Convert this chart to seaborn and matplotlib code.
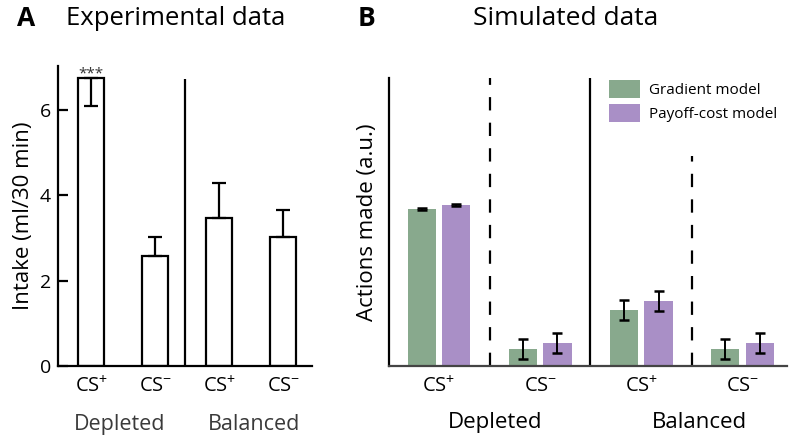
import pandas as pd
import seaborn as sns
import numpy as np
import matplotlib.pyplot as plt

# Panel A: experimental data
exp_conditions = ["Depleted CS+", "Depleted CS-", "Balanced CS+", "Balanced CS-"]
exp_intake = [6.75, 2.58, 3.47, 3.02]
exp_err_low = [0.66, 0.0, 0.0, 0.0]
exp_err_high = [0.0, 0.44, 0.82, 0.64]

# Panel B: simulated data
sim_conditions = ["Depleted CS+", "Depleted CS-", "Balanced CS+", "Balanced CS-"]
models = ["Gradient model", "Payoff-cost model"]
gradient_vals = [54.5, 5.9, 19.4, 5.9]
payoff_vals = [55.9, 8.0, 22.6, 8.0]
gradient_err = [0.3, 3.6, 3.5, 3.6]
payoff_err = [0.3, 3.5, 3.5, 3.6]

tick_labels = ["CS$^{+}$", "CS$^{-}$", "CS$^{+}$", "CS$^{-}$"]
groups = ["Depleted", "Balanced"]
colors = ["#88a98d", "#a98fc6"]

sns.set_style("white")
plt.rcParams["font.family"] = ["Open Sans", "DejaVu Sans"]
plt.rcParams["mathtext.fontset"] = "custom"
plt.rcParams["mathtext.rm"] = "Open Sans"
plt.rcParams["mathtext.default"] = "regular"
plt.rcParams["text.color"] = "black"
plt.rcParams["axes.labelcolor"] = "black"
plt.rcParams["xtick.color"] = "black"
plt.rcParams["ytick.color"] = "black"

fig = plt.figure(figsize=(7.89, 4.41), dpi=100)
axA = fig.add_axes([0.0735, 0.170, 0.322, 0.680])
axB = fig.add_axes([0.493, 0.170, 0.5045, 0.653])

LW = 1.6

# ---- Panel A ----
dfA = pd.DataFrame({"cond": exp_conditions, "intake": exp_intake})
sns.barplot(data=dfA, x="cond", y="intake", order=exp_conditions, ax=axA,
            color="white", edgecolor="black", linewidth=LW, width=0.41,
            errorbar=None)
xA = np.arange(len(exp_conditions))
axA.errorbar(xA, exp_intake, yerr=[exp_err_low, exp_err_high], fmt="none",
             ecolor="black", elinewidth=LW, capsize=5, capthick=LW)
axA.text(xA[0], exp_intake[0] - 0.07, "***", ha="center", va="bottom",
         fontsize=11, color="#333333")
axA.plot([1.46, 1.46], [0, 6.72], color="black", lw=LW, solid_capstyle="butt")
axA.set_xlim(-0.52, 3.45)
axA.set_ylim(0, 7.03)
axA.set_yticks([0, 2, 4, 6])
axA.tick_params(axis="y", direction="in", length=7, width=LW, labelsize=14,
                left=True, pad=5)
axA.tick_params(axis="x", length=0, labelsize=14.5, pad=7)
axA.set_xticks(xA)
axA.set_xticklabels(tick_labels)
axA.set_xlabel("")
axA.set_ylabel("Intake (ml/30 min)", fontsize=16, labelpad=4)
for s in ["top", "right"]:
    axA.spines[s].set_visible(False)
for s in ["left", "bottom"]:
    axA.spines[s].set_linewidth(LW)
    axA.spines[s].set_color("black")
axA.text(0.45, -0.16, groups[0], transform=axA.get_xaxis_transform(),
         ha="center", va="top", fontsize=15.5, color="#3a3a3a")
axA.text(2.55, -0.16, groups[1], transform=axA.get_xaxis_transform(),
         ha="center", va="top", fontsize=15.5, color="#3a3a3a")
fig.text(0.022, 0.958, "A", fontsize=19, fontweight="bold", va="center")
fig.text(0.223, 0.958, "Experimental data", fontsize=18.5, ha="center", va="center")

# ---- Panel B ----
dfB = pd.DataFrame({
    "cond": sim_conditions * 2,
    "model": [models[0]] * 4 + [models[1]] * 4,
    "actions": gradient_vals + payoff_vals,
    "err": gradient_err + payoff_err,
})
sns.barplot(data=dfB, x="cond", y="actions", hue="model", order=sim_conditions,
            hue_order=models, palette=colors, ax=axB, width=0.68, gap=0.18,
            errorbar=None, saturation=1, linewidth=0)
for patch, val, err in zip(axB.patches[:8], dfB["actions"], dfB["err"]):
    cx = patch.get_x() + patch.get_width() / 2
    axB.errorbar(cx, val, yerr=err, fmt="none", ecolor="black",
                 elinewidth=1.4, capsize=3.5, capthick=1.8)
axB.axvline(0.505, color="black", lw=LW, ls=(0, (6, 5.5)))
axB.axvline(1.495, color="black", lw=LW)
axB.plot([2.505, 2.505], [0, 73], color="black", lw=LW, ls=(0, (6, 5.5)))
axB.set_xlim(-0.495, 3.44)
axB.set_ylim(0, 100)
axB.set_yticks([])
axB.set_xticks(np.arange(4))
axB.set_xticklabels(tick_labels)
axB.tick_params(axis="x", length=0, labelsize=14.5, pad=7)
axB.set_xlabel("")
axB.set_ylabel("Actions made (a.u.)", fontsize=16, labelpad=8)
for s in ["top", "right"]:
    axB.spines[s].set_visible(False)
axB.spines["left"].set_linewidth(LW)
axB.spines["left"].set_color("black")
axB.spines["bottom"].set_linewidth(LW)
axB.spines["bottom"].set_color("#444444")
axB.text(0.55, -0.16, groups[0], transform=axB.get_xaxis_transform(),
         ha="center", va="top", fontsize=16, color="black")
axB.text(2.57, -0.16, groups[1], transform=axB.get_xaxis_transform(),
         ha="center", va="top", fontsize=16, color="black")
leg = axB.legend(loc="upper left", bbox_to_anchor=(0.53, 1.025), frameon=False,
                 fontsize=11, handlelength=2.0, handleheight=1.45,
                 handletextpad=0.6, labelspacing=0.35, borderaxespad=0.2)
fig.text(0.453, 0.958, "B", fontsize=19, fontweight="bold", va="center")
fig.text(0.717, 0.958, "Simulated data", fontsize=19, ha="center", va="center")

fig.savefig("out.png", dpi=100)
